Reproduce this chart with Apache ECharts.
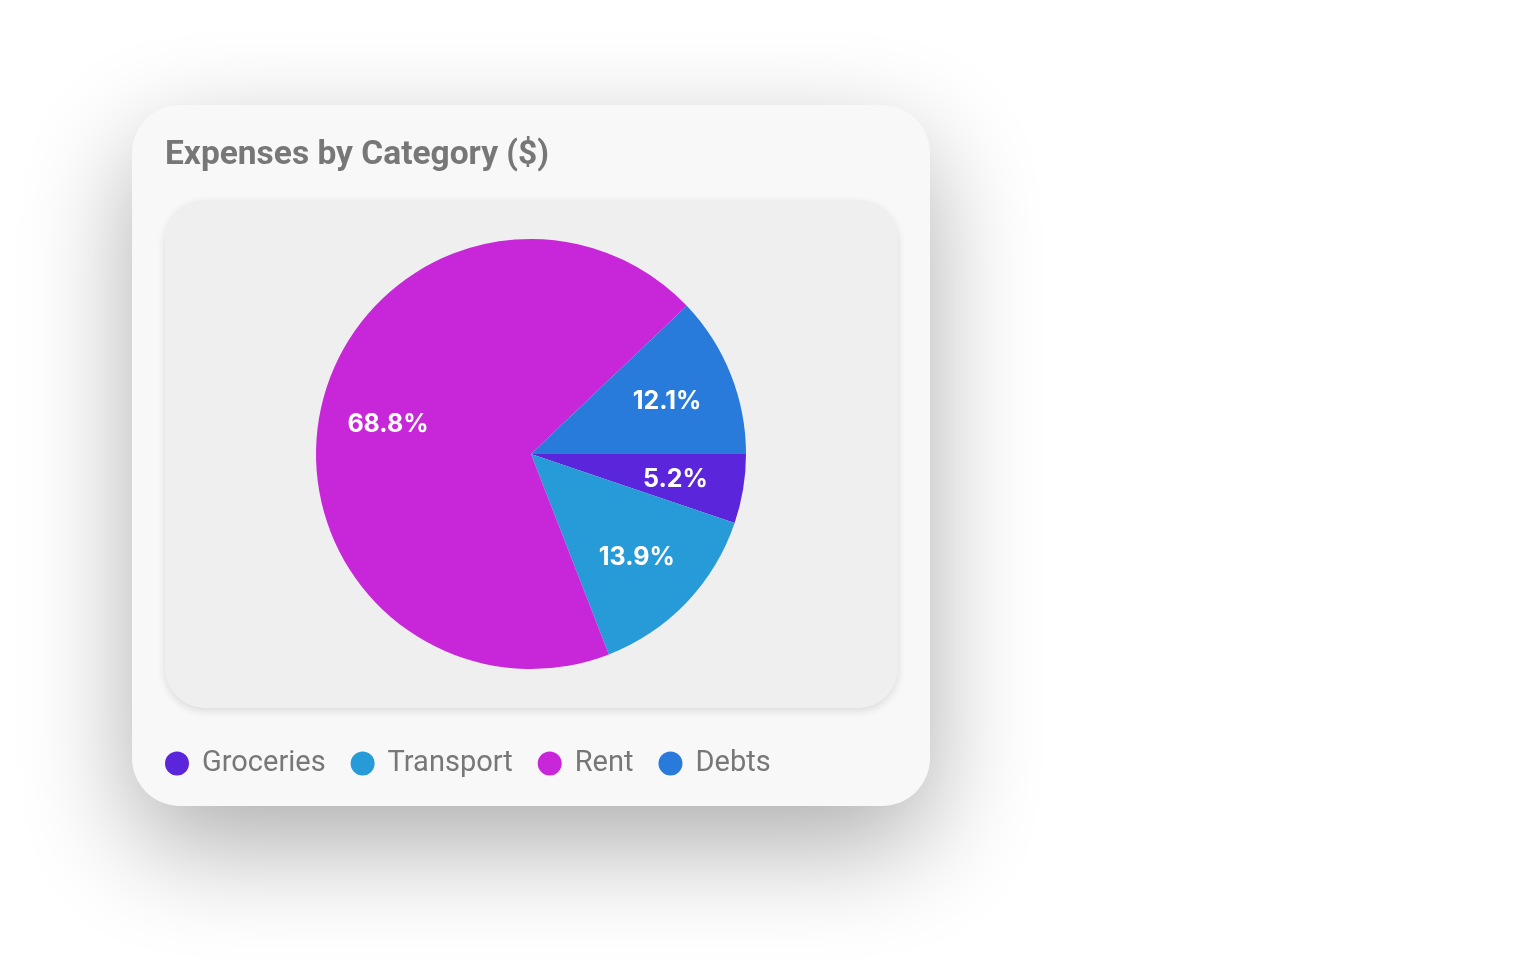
<!DOCTYPE html>
<html>
<head>
<meta charset="utf-8">
<script src="https://cdn.jsdelivr.net/npm/echarts@6/dist/echarts.min.js"></script>
<style>
html,body{margin:0;padding:0;background:#fff;}
#chart{width:1524px;height:978px;}
</style>
</head>
<body>
<div id="chart"></div>
<script>
const titleText = 'Expenses by Category ($)';
const categories = ['Groceries', 'Transport', 'Rent', 'Debts'];
const values = [5.2, 13.9, 68.8, 12.1];
const colors = ['#5a25db', '#279bd8', '#c727d9', '#297bdb'];

const chart = echarts.init(document.getElementById('chart'), null, {renderer: 'canvas'});
const data = categories.map((c, i) => ({name: c, value: values[i], itemStyle: {color: colors[i]}}));
const total = values.reduce((a, b) => a + b, 0);

chart.setOption({
  backgroundColor: '#ffffff',
  animation: false,
  graphic: [
    {type: 'rect', z: -10, shape: {x: 132, y: 105, width: 798, height: 701, r: 48},
     style: {fill: '#f8f8f8', shadowBlur: 110, shadowOffsetY: 40, shadowColor: 'rgba(0,0,0,0.32)'}},
    {type: 'rect', z: -9, shape: {x: 165, y: 200, width: 733, height: 508, r: 40},
     style: {fill: '#efefef', shadowBlur: 8, shadowOffsetY: 3, shadowColor: 'rgba(0,0,0,0.12)'}},
    {type: 'text', z: 10, left: 165, top: 139,
     style: {text: titleText, fill: '#777777', font: 'bold 33.5px Roboto'}}
  ],
  legend: {
    data: categories,
    left: 165, top: 749, padding: 0,
    icon: 'circle',
    itemWidth: 40, itemHeight: 24, itemGap: 25,
    textStyle: {fontFamily: 'Roboto', fontSize: 29, color: '#777777'}
  },
  series: [
    {
      type: 'pie', center: [531, 454], radius: [0, 215], startAngle: 0, clockwise: true,
      silent: true, label: {show: false}, labelLine: {show: false},
      data: data
    },
    {
      type: 'pie', center: [531, 456], radius: [72, 215], startAngle: 0, clockwise: true,
      silent: true, labelLine: {show: false},
      itemStyle: {color: 'rgba(0,0,0,0)'},
      label: {show: true, position: 'inside', color: '#ffffff', fontFamily: 'Inter', fontWeight: 700, fontSize: 25,
        formatter: p => (p.value / total * 100).toFixed(1) + '%'},
      data: categories.map((c, i) => ({name: c, value: values[i], itemStyle: {color: 'rgba(0,0,0,0)'}}))
    }
  ]
});
</script>
</body>
</html>
